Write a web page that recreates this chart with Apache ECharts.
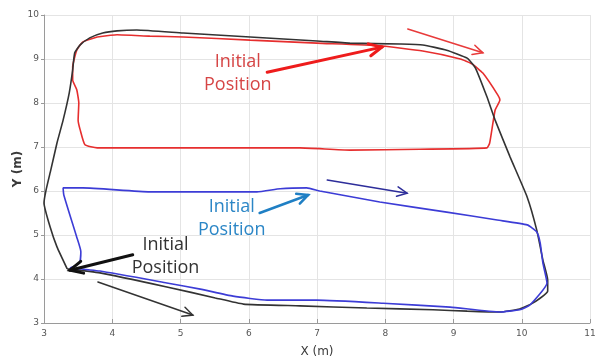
<!DOCTYPE html>
<html>
<head>
<meta charset="utf-8">
<script src="https://cdn.jsdelivr.net/npm/echarts@6/dist/echarts.min.js"></script>
<style>
  html, body { margin: 0; padding: 0; background: #fff; }
  #chart { width: 602px; height: 360px; }
</style>
</head>
<body>
<div id="chart"></div>
<script>
// Axis ranges and ticks (metres)
const xTicks = [3, 4, 5, 6, 7, 8, 9, 10, 11];
const yTicks = [3, 4, 5, 6, 7, 8, 9, 10];

// Recorded trajectories, [x, y] in metres
const redPath = [
  [3.78, 9.50], [4.07, 9.55], [4.55, 9.52], [5.04, 9.50], [6.02, 9.43], [7.00, 9.36],
  [7.92, 9.30], [8.55, 9.18], [9.10, 9.00], [9.27, 8.89], [9.43, 8.68], [9.65, 8.18],
  [9.68, 8.07], [9.61, 7.84], [9.53, 7.09], [9.49, 6.98], [8.51, 6.95], [7.48, 6.93],
  [6.75, 6.98], [5.29, 6.98], [4.01, 6.98], [3.78, 6.98], [3.60, 7.05], [3.53, 7.39],
  [3.50, 7.61], [3.51, 8.00], [3.48, 8.30], [3.42, 8.52], [3.42, 8.82], [3.48, 9.20],
  [3.57, 9.39], [3.78, 9.50]
];
const blackPath = [
  [3.34, 4.23], [3.82, 4.14], [4.80, 3.82], [5.51, 3.57], [5.92, 3.43], [6.75, 3.39],
  [7.73, 3.34], [8.70, 3.30], [9.20, 3.27], [9.68, 3.25], [9.97, 3.32], [10.16, 3.45],
  [10.38, 3.73], [10.38, 3.98], [10.31, 4.43], [10.22, 5.11], [10.08, 5.86], [9.83, 6.77],
  [9.61, 7.61], [9.49, 8.14], [9.32, 8.80], [9.20, 9.02], [8.90, 9.20], [8.55, 9.32],
  [8.22, 9.34], [7.48, 9.36], [7.00, 9.41], [6.02, 9.50], [5.04, 9.59], [4.36, 9.66],
  [4.07, 9.64], [3.86, 9.59], [3.67, 9.48], [3.53, 9.32], [3.45, 9.14], [3.42, 8.75],
  [3.37, 8.23], [3.28, 7.61], [3.19, 7.09], [3.10, 6.48], [3.03, 6.02], [3.00, 5.73],
  [3.09, 5.18], [3.19, 4.73], [3.34, 4.23]
];
const bluePath = [
  [3.38, 4.25], [3.82, 4.18], [4.80, 3.91], [5.29, 3.77], [5.77, 3.61], [6.27, 3.52],
  [7.00, 3.52], [7.97, 3.45], [8.95, 3.36], [9.68, 3.25], [9.97, 3.30], [10.12, 3.41],
  [10.37, 3.91], [10.31, 4.36], [10.27, 4.82], [10.22, 5.07], [10.08, 5.23], [9.64, 5.34],
  [8.90, 5.52], [7.92, 5.75], [7.04, 6.00], [6.85, 6.07], [6.46, 6.05], [6.12, 5.98],
  [4.99, 5.98], [4.55, 5.98], [3.57, 6.07], [3.28, 6.07], [3.29, 5.91], [3.48, 4.95],
  [3.54, 4.62], [3.52, 4.36], [3.38, 4.25]
];

// Start-point callouts: [x1, y1, x2, y2] from the note to the start point
const redStartArrow = [[6.27, 8.70, 7.95, 9.27]];
const blueStartArrow = [[6.16, 5.50, 6.87, 5.91]];
const blackStartArrow = [[4.30, 4.55, 3.38, 4.20]];

// Direction-of-travel arrows: [x1, y1, x2, y2]
const redDirArrow = [[8.33, 9.68, 9.43, 9.14]];
const blueDirArrow = [[7.15, 6.25, 8.32, 5.95]];
const blackDirArrow = [[3.79, 3.93, 5.18, 3.18]];

// Note anchors [x, y] and their text
const noteText = 'Initial\nPosition';
const redNote = [[5.84, 8.67]];
const blueNote = [[5.75, 5.38]];
const blackNote = [[4.78, 4.52]];

const chart = echarts.init(document.getElementById('chart'), null, { renderer: 'canvas' });

function arrowSeries(data, color, width, headLen) {
  return {
    type: 'custom',
    data: data,
    encode: { x: [0, 2], y: [1, 3] },
    clip: false,
    silent: true,
    z: 5,
    renderItem: function (params, api) {
      const a = api.coord([api.value(0), api.value(1)]);
      const b = api.coord([api.value(2), api.value(3)]);
      const ang = Math.atan2(b[1] - a[1], b[0] - a[0]);
      const spread = 0.45;
      const h1 = [b[0] - headLen * Math.cos(ang - spread), b[1] - headLen * Math.sin(ang - spread)];
      const h2 = [b[0] - headLen * Math.cos(ang + spread), b[1] - headLen * Math.sin(ang + spread)];
      return {
        type: 'group',
        children: [
          { type: 'line', shape: { x1: a[0], y1: a[1], x2: b[0], y2: b[1] },
            style: { stroke: color, lineWidth: width, lineCap: 'round' } },
          { type: 'polyline', shape: { points: [h1, b, h2] },
            style: { stroke: color, lineWidth: width, fill: null, lineCap: 'round', lineJoin: 'miter' } }
        ]
      };
    }
  };
}

function noteSeries(data, color) {
  return {
    type: 'custom',
    data: data,
    encode: { x: 0, y: 1 },
    clip: false,
    silent: true,
    z: 6,
    renderItem: function (params, api) {
      const p = api.coord([api.value(0), api.value(1)]);
      return {
        type: 'text',
        x: p[0],
        y: p[1],
        style: {
          text: noteText,
          fill: color,
          font: '18px "Open Sans", sans-serif',
          align: 'center',
          verticalAlign: 'middle',
          lineHeight: 23
        }
      };
    }
  };
}

function pathSeries(data, color) {
  return {
    type: 'line',
    data: data,
    showSymbol: false,
    smooth: 0.15,
    clip: false,
    silent: true,
    lineStyle: { color: color, width: 1.6 },
    z: 3
  };
}

const axisLabelStyle = { color: '#555', fontSize: 9, fontFamily: 'DejaVu Sans' };

chart.setOption({
  animation: false,
  backgroundColor: '#fff',
  grid: { left: 44, right: 12, top: 15, bottom: 37, containLabel: false, outerBoundsMode: 'none' },
  xAxis: {
    type: 'value',
    min: xTicks[0],
    max: xTicks[xTicks.length - 1],
    interval: 1,
    name: 'X (m)',
    nameLocation: 'middle',
    nameGap: 23,
    nameMoveOverlap: false,
    nameTextStyle: { color: '#3a3a3a', fontSize: 12, fontFamily: 'DejaVu Sans' },
    axisLine: { show: true, lineStyle: { color: '#9a9a9a', width: 1 } },
    axisTick: { show: true, inside: true, length: 4, lineStyle: { color: '#9a9a9a' } },
    axisLabel: Object.assign({ margin: 6 }, axisLabelStyle),
    splitLine: { show: true, lineStyle: { color: '#e4e4e4', width: 1 } }
  },
  yAxis: {
    type: 'value',
    min: yTicks[0],
    max: yTicks[yTicks.length - 1],
    interval: 1,
    name: 'Y (m)',
    nameLocation: 'middle',
    nameGap: 20,
    nameMoveOverlap: false,
    nameTextStyle: { color: '#3a3a3a', fontSize: 12, fontWeight: 'bold', fontFamily: 'DejaVu Sans' },
    axisLine: { show: true, lineStyle: { color: '#9a9a9a', width: 1 } },
    axisTick: { show: true, inside: false, length: 3, lineStyle: { color: '#9a9a9a' } },
    axisLabel: Object.assign({ margin: 5 }, axisLabelStyle),
    splitLine: { show: true, lineStyle: { color: '#e4e4e4', width: 1 } }
  },
  series: [
    pathSeries(redPath, '#e62e2e'),
    pathSeries(blackPath, '#333333'),
    pathSeries(bluePath, '#3c3cd6'),
    arrowSeries(redStartArrow, '#ee1c1c', 3, 14),
    arrowSeries(blueStartArrow, '#1f7fc4', 2.5, 12),
    arrowSeries(blackStartArrow, '#111111', 3, 14),
    arrowSeries(redDirArrow, '#e83a3a', 1.5, 11),
    arrowSeries(blueDirArrow, '#2d2d9a', 1.5, 11),
    arrowSeries(blackDirArrow, '#333333', 1.5, 11),
    noteSeries(redNote, '#d64545'),
    noteSeries(blueNote, '#2b86c6'),
    noteSeries(blackNote, '#333333')
  ]
});
</script>
</body>
</html>
